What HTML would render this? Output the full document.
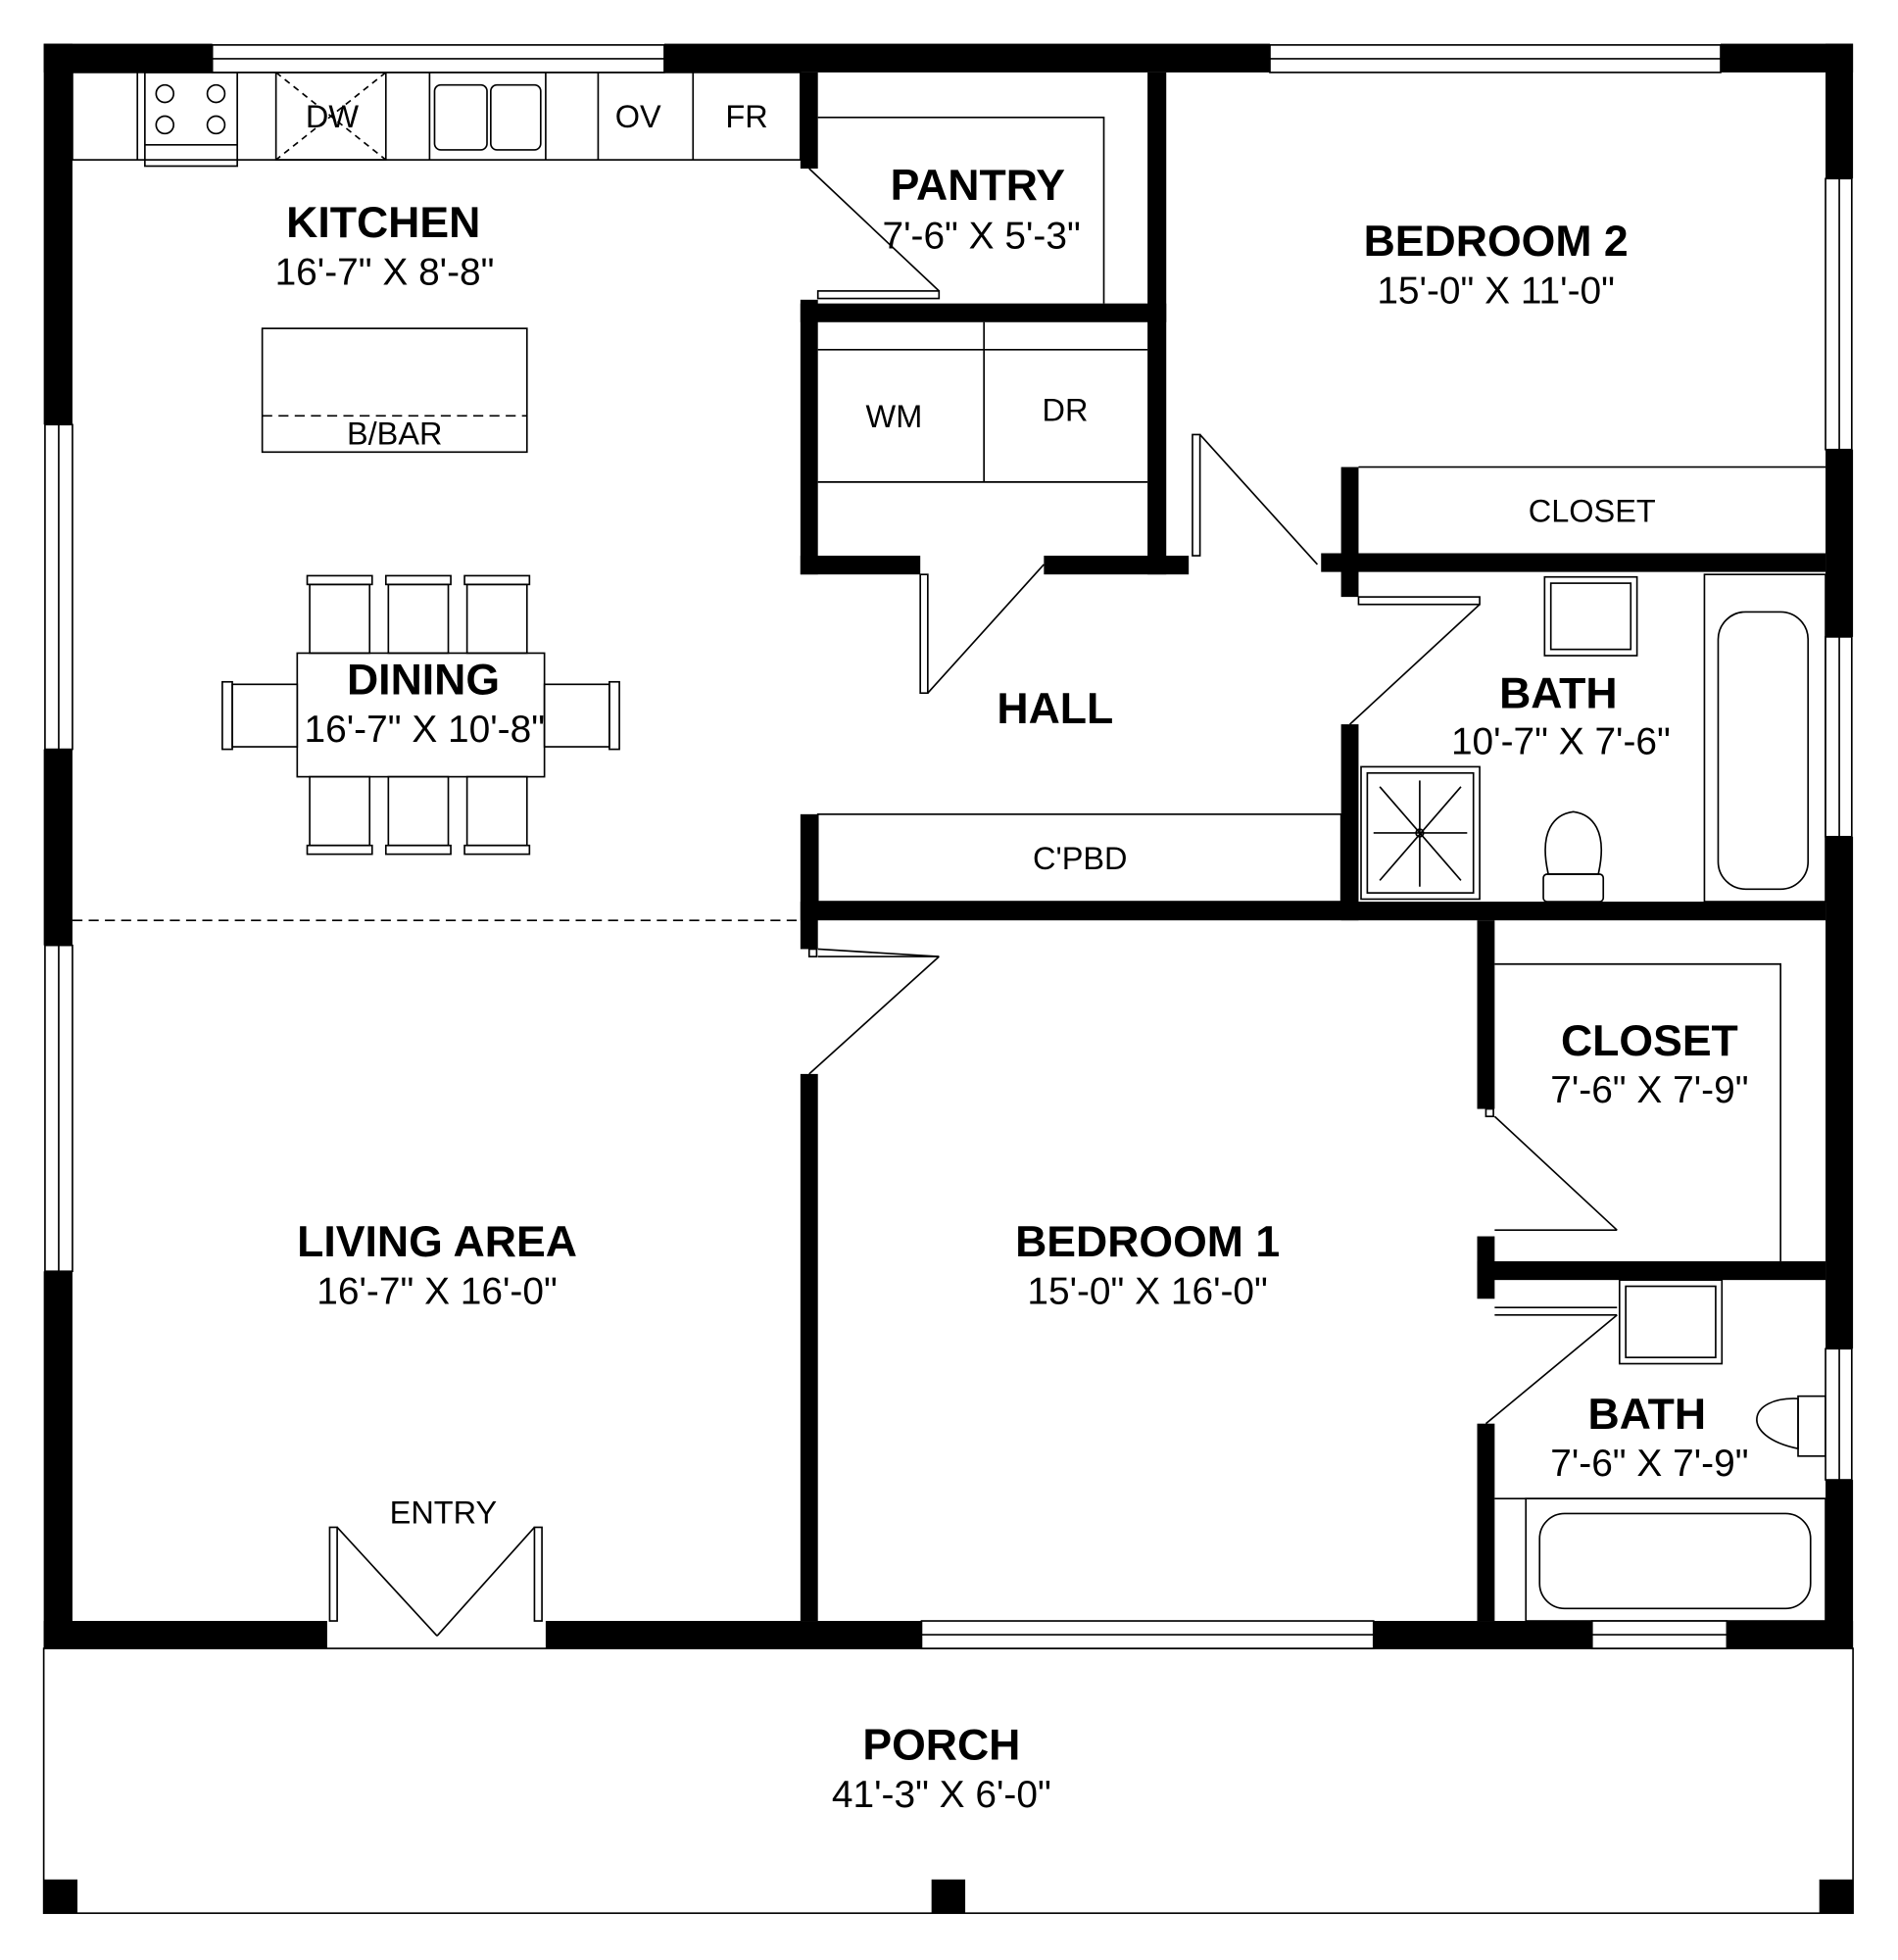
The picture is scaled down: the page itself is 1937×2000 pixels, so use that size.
<!DOCTYPE html>
<html><head><meta charset="utf-8"><style>
html,body{margin:0;padding:0;background:#fff}
svg{display:block}
text{font-family:"Liberation Sans",Arial,sans-serif;fill:#000;text-anchor:middle}
.b{font-weight:bold;font-size:35px}
.d{font-size:30.5px}
.s{font-size:25.5px}
</style></head><body>
<svg width="1937" height="2000" viewBox="0 0 1520 1569.5" xmlns="http://www.w3.org/2000/svg">
<rect width="1520" height="1570" fill="#fff"/>
<g fill="none" stroke="#000" stroke-width="1.3">
<rect x="35" y="1320" width="1449" height="212"/>
<rect x="58" y="58" width="583" height="70"/>
<line x1="110" y1="58" x2="110" y2="128"/>
<rect x="116" y="58" width="74" height="75"/>
<line x1="116" y1="116" x2="190" y2="116"/>
<circle cx="132" cy="75" r="7"/><circle cx="173" cy="75" r="7"/>
<circle cx="132" cy="100" r="7"/><circle cx="173" cy="100" r="7"/>
<rect x="221" y="58" width="88" height="70"/>
<line x1="221" y1="58" x2="309" y2="128" stroke-dasharray="5,4"/>
<line x1="309" y1="58" x2="221" y2="128" stroke-dasharray="5,4"/>
<line x1="344" y1="58" x2="344" y2="128"/>
<rect x="348" y="68" width="42" height="52" rx="5"/>
<rect x="393" y="68" width="40" height="52" rx="5"/>
<line x1="437" y1="58" x2="437" y2="128"/>
<line x1="479" y1="58" x2="479" y2="128"/>
<line x1="555" y1="58" x2="555" y2="128"/>
<rect x="210" y="263" width="212" height="99"/>
<line x1="210" y1="333" x2="422" y2="333" stroke-dasharray="8,5"/>
<rect x="238" y="523" width="198" height="99"/>
<g>
<rect x="248" y="468" width="48" height="55"/><rect x="246" y="461" width="52" height="7"/>
<rect x="311" y="468" width="48" height="55"/><rect x="309" y="461" width="52" height="7"/>
<rect x="374" y="468" width="48" height="55"/><rect x="372" y="461" width="52" height="7"/>
<rect x="248" y="622" width="48" height="55"/><rect x="246" y="677" width="52" height="7"/>
<rect x="311" y="622" width="48" height="55"/><rect x="309" y="677" width="52" height="7"/>
<rect x="374" y="622" width="48" height="55"/><rect x="372" y="677" width="52" height="7"/>
<rect x="186" y="548" width="52" height="50"/><rect x="178" y="546" width="8" height="54"/>
<rect x="436" y="548" width="52" height="50"/><rect x="488" y="546" width="8" height="54"/>
</g>
<line x1="58" y1="737" x2="641" y2="737" stroke-dasharray="8,5"/>
<polyline points="655,94 884,94 884,243"/>
<line x1="648" y1="135" x2="752" y2="233"/>
<rect x="655" y="233" width="97" height="6"/>
<line x1="655" y1="280" x2="919" y2="280"/>
<line x1="655" y1="386" x2="919" y2="386"/>
<line x1="788" y1="258" x2="788" y2="386"/>
<rect x="737" y="460" width="6" height="95"/>
<line x1="743" y1="555" x2="836" y2="452"/>
<rect x="955" y="348" width="6" height="97"/>
<line x1="961" y1="348" x2="1055" y2="452"/>
<line x1="1088" y1="374" x2="1462" y2="374"/>
<rect x="1088" y="478" width="97" height="6"/>
<line x1="1185" y1="484" x2="1081" y2="580"/>
<rect x="1237" y="462" width="74" height="63"/><rect x="1242" y="467" width="64" height="53"/>
<rect x="1365" y="460" width="97" height="262"/>
<rect x="1376" y="490" width="72" height="222" rx="22"/>
<rect x="1090" y="614" width="95" height="106"/><rect x="1095" y="619" width="85" height="96"/>
<line x1="1105" y1="630" x2="1170" y2="705"/><line x1="1170" y1="630" x2="1105" y2="705"/>
<line x1="1137" y1="625" x2="1137" y2="710"/><line x1="1100" y1="667" x2="1175" y2="667"/>
<circle cx="1137" cy="667" r="3"/>
<path d="M1240,700 C1232,665 1245,652 1260,650 C1275,652 1288,665 1280,700 Z"/>
<rect x="1236" y="700" width="48" height="22" rx="3"/>
<rect x="655" y="652" width="419" height="70"/>
<rect x="648" y="760" width="6" height="6"/>
<line x1="655" y1="766" x2="752" y2="766"/><line x1="752" y1="766" x2="648" y2="860"/>
<line x1="655" y1="760" x2="752" y2="766"/>
<polyline points="1197,772 1426,772 1426,1010"/>
<rect x="1190" y="888" width="6" height="6"/>
<line x1="1197" y1="894" x2="1295" y2="985"/>
<line x1="1197" y1="985" x2="1295" y2="985"/>
<line x1="1197" y1="1047" x2="1295" y2="1047"/>
<line x1="1197" y1="1053" x2="1295" y2="1053"/>
<line x1="1295" y1="1053" x2="1190" y2="1140"/>
<rect x="1297" y="1025" width="82" height="67"/><rect x="1302" y="1030" width="72" height="57"/>
<path d="M1440,1120 C1400,1118 1392,1150 1440,1160 Z"/>
<rect x="1440" y="1118" width="22" height="48"/>
<line x1="1197" y1="1200" x2="1462" y2="1200"/>
<rect x="1222" y="1200" width="240" height="98"/>
<rect x="1233" y="1212" width="217" height="76" rx="20"/>
<rect x="264" y="1223" width="6" height="75"/>
<line x1="270" y1="1223" x2="350" y2="1310"/>
<rect x="428" y="1223" width="6" height="75"/>
<line x1="428" y1="1223" x2="350" y2="1310"/>
</g>
<g fill="#000">
<rect x="35" y="35" width="135" height="23"/>
<rect x="532" y="35" width="485" height="23"/>
<rect x="1378" y="35" width="106" height="23"/>
<rect x="35" y="35" width="23" height="305"/>
<rect x="35" y="600" width="23" height="157"/>
<rect x="35" y="1018" width="23" height="302"/>
<rect x="1462" y="35" width="22" height="108"/>
<rect x="1462" y="360" width="22" height="150"/>
<rect x="1462" y="670" width="22" height="410"/>
<rect x="1462" y="1185" width="22" height="135"/>
<rect x="35" y="1298" width="227" height="22"/>
<rect x="437" y="1298" width="301" height="22"/>
<rect x="1100" y="1298" width="175" height="22"/>
<rect x="1383" y="1298" width="101" height="22"/>
<rect x="35" y="1505" width="27" height="27"/>
<rect x="746" y="1505" width="27" height="27"/>
<rect x="1457" y="1505" width="27" height="27"/>
<rect x="641" y="58" width="14" height="77"/>
<rect x="641" y="240" width="14" height="220"/>
<rect x="919" y="58" width="15" height="402"/>
<rect x="641" y="243" width="293" height="15"/>
<rect x="641" y="445" width="96" height="15"/>
<rect x="836" y="445" width="116" height="15"/>
<rect x="1074" y="374" width="14" height="104"/>
<rect x="1058" y="443" width="404" height="15"/>
<rect x="1074" y="580" width="14" height="157"/>
<rect x="641" y="722" width="821" height="15"/>
<rect x="641" y="652" width="14" height="108"/>
<rect x="641" y="860" width="14" height="438"/>
<rect x="1183" y="737" width="14" height="151"/>
<rect x="1183" y="990" width="14" height="50" />
<rect x="1183" y="1010" width="279" height="15"/>
<rect x="1183" y="1140" width="14" height="158"/>
</g>
<g fill="#fff" stroke="#000" stroke-width="1.3">
<rect x="170" y="36" width="362" height="22"/><line x1="170" y1="47" x2="532" y2="47"/>
<rect x="1017" y="36" width="361" height="22"/><line x1="1017" y1="47" x2="1378" y2="47"/>
<rect x="36" y="340" width="22" height="260"/><line x1="47" y1="340" x2="47" y2="600"/>
<rect x="36" y="757" width="22" height="261"/><line x1="47" y1="757" x2="47" y2="1018"/>
<rect x="1462" y="143" width="21" height="217"/><line x1="1473" y1="143" x2="1473" y2="360"/>
<rect x="1462" y="510" width="21" height="160"/><line x1="1473" y1="510" x2="1473" y2="670"/>
<rect x="1462" y="1080" width="21" height="105"/><line x1="1473" y1="1080" x2="1473" y2="1185"/>
<rect x="738" y="1298" width="362" height="22"/><line x1="738" y1="1309" x2="1100" y2="1309"/>
<rect x="1275" y="1298" width="108" height="22"/><line x1="1275" y1="1309" x2="1383" y2="1309"/>
</g>
<text x="307" y="190" class="b">KITCHEN</text>
<text x="308" y="228" class="d">16'-7" X 8'-8"</text>
<text x="266" y="102" class="s">DW</text>
<text x="511" y="102" class="s">OV</text>
<text x="598" y="102" class="s">FR</text>
<text x="316" y="356" class="s">B/BAR</text>
<text x="783" y="160" class="b">PANTRY</text>
<text x="786" y="199" class="d">7'-6" X 5'-3"</text>
<text x="716" y="342" class="s">WM</text>
<text x="853" y="337" class="s">DR</text>
<text x="1198" y="205" class="b">BEDROOM 2</text>
<text x="1198" y="243" class="d">15'-0" X 11'-0"</text>
<text x="1275" y="418" class="s">CLOSET</text>
<text x="339" y="556" class="b">DINING</text>
<text x="340" y="594" class="d">16'-7" X 10'-8"</text>
<text x="845" y="579" class="b">HALL</text>
<text x="1248" y="567" class="b">BATH</text>
<text x="1250" y="604" class="d">10'-7" X 7'-6"</text>
<text x="865" y="696" class="s">C'PBD</text>
<text x="1321" y="845" class="b">CLOSET</text>
<text x="1321" y="883" class="d">7'-6" X 7'-9"</text>
<text x="350" y="1006" class="b">LIVING AREA</text>
<text x="350" y="1044" class="d">16'-7" X 16'-0"</text>
<text x="919" y="1006" class="b">BEDROOM 1</text>
<text x="919" y="1044" class="d">15'-0" X 16'-0"</text>
<text x="1319" y="1144" class="b">BATH</text>
<text x="1321" y="1182" class="d">7'-6" X 7'-9"</text>
<text x="355" y="1220" class="s">ENTRY</text>
<text x="754" y="1409" class="b">PORCH</text>
<text x="754" y="1447" class="d">41'-3" X 6'-0"</text>
</svg>
</body></html>
